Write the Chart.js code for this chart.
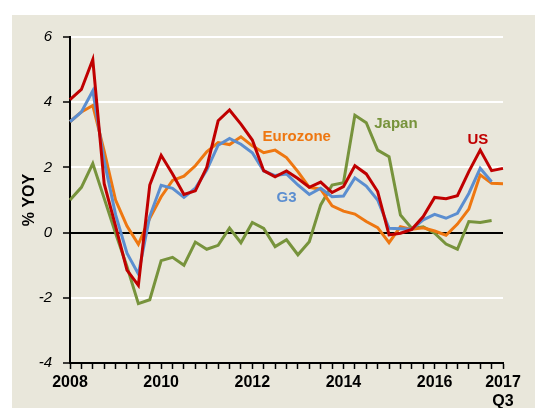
<!DOCTYPE html>
<html>
<head>
<meta charset="utf-8">
<script src="https://cdn.jsdelivr.net/npm/chart.js@4.4.1/dist/chart.umd.min.js"></script>
<style>
  body { margin: 0; background: #fff; }
  canvas { display: block; }
</style>
</head>
<body>
<canvas id="inflation" width="535" height="408"></canvas>
<script>
// quarters 2008Q1 .. 2017Q3
var quarters = [];
for (var yr = 2008; yr <= 2017; yr++) {
  for (var q = 1; q <= 4; q++) {
    if (yr == 2017 && q > 3) break;
    quarters.push(yr + "Q" + q);
  }
}

// tick labels shown under the x axis
var tickAt = ["2008Q1", "2010Q1", "2012Q1", "2014Q1", "2016Q1", "2017Q3"];
var tickText = ["2008", "2010", "2012", "2014", "2016", ["2017", "Q3"]];

var us = [4.08, 4.39, 5.31, 1.5, 0.2, -1.15, -1.62, 1.46, 2.37, 1.8, 1.17, 1.28, 2.0, 3.43, 3.76, 3.33, 2.84, 1.9, 1.71, 1.89, 1.66, 1.39, 1.55, 1.23, 1.41, 2.05, 1.8, 1.26, -0.07, -0.02, 0.1, 0.49, 1.08, 1.04, 1.13, 1.87, 2.53, 1.9, 1.97];
var g3 = [3.4, 3.7, 4.35, 2.2, 0.55, -0.63, -1.27, 0.5, 1.45, 1.36, 1.08, 1.36, 1.92, 2.68, 2.89, 2.71, 2.45, 1.89, 1.75, 1.8, 1.46, 1.17, 1.36, 1.1, 1.12, 1.68, 1.43, 1.0, 0.13, 0.12, 0.1, 0.39, 0.56, 0.44, 0.59, 1.2, 1.97, 1.56, null];
var eurozone = [3.4, 3.7, 3.9, 2.5, 1.0, 0.2, -0.36, 0.44, 1.1, 1.6, 1.73, 2.05, 2.48, 2.76, 2.7, 2.94, 2.66, 2.45, 2.53, 2.3, 1.87, 1.39, 1.33, 0.82, 0.66, 0.57, 0.34, 0.15, -0.31, 0.18, 0.1, 0.15, 0.05, -0.08, 0.26, 0.72, 1.77, 1.51, 1.5];
var japan = [1.0, 1.39, 2.12, 1.05, -0.02, -1.04, -2.18, -2.06, -0.86, -0.76, -1.0, -0.29, -0.51, -0.39, 0.14, -0.31, 0.31, 0.13, -0.43, -0.22, -0.68, -0.28, 0.85, 1.46, 1.53, 3.6, 3.37, 2.53, 2.33, 0.54, 0.13, 0.18, -0.02, -0.35, -0.51, 0.34, 0.31, 0.37, null];

// in-chart series names: [text, colour, quarter index, value]
var seriesLabels = [
  ["Eurozone", "#EE7711", 19.9, 2.93],
  ["Japan", "#77933C", 28.6, 3.33],
  ["US", "#C00000", 35.8, 2.84],
  ["G3", "#5B8ED0", 19.0, 1.06]
];

var FONT = "'Liberation Sans', Arial, sans-serif";

var backdrop = {
  id: "backdrop",
  beforeDraw: function (chart) {
    var c = chart.ctx;
    c.save();
    c.fillStyle = "#E9E7DB";
    c.fillRect(12, 15, chart.width - 12, chart.height - 15);
    c.restore();
  },
  afterDatasetsDraw: function (chart) {
    var c = chart.ctx;
    var xs = chart.scales.x, ys = chart.scales.y;
    c.save();
    c.font = "bold 15px " + FONT;
    c.textAlign = "center";
    c.textBaseline = "middle";
    seriesLabels.forEach(function (l) {
      c.fillStyle = l[1];
      c.fillText(l[0], xs.getPixelForValue(l[2]), ys.getPixelForValue(l[3]));
    });
    c.restore();
  }
};

function line(label, data, color) {
  return {
    label: label,
    data: data,
    borderColor: color,
    backgroundColor: color,
    borderWidth: 3,
    pointRadius: 0,
    tension: 0,
    spanGaps: false
  };
}

var ctx = document.getElementById("inflation").getContext("2d");
var myChart = new Chart(ctx, {
  type: "line",
  data: {
    labels: quarters,
    datasets: [
      line("US", us, "#C00000"),
      line("G3", g3, "#5B8ED0"),
      line("Eurozone", eurozone, "#EE7711"),
      line("Japan", japan, "#77933C")
    ]
  },
  options: {
    responsive: false,
    animation: false,
    devicePixelRatio: 1,
    layout: { padding: { left: 20, top: 37, right: 32, bottom: 0 } },
    plugins: {
      legend: { display: false },
      tooltip: { enabled: false }
    },
    scales: {
      x: {
        offset: false,
        afterFit: function (scale) { scale.height = 45; },
        grid: {
          drawOnChartArea: false,
          drawTicks: true,
          tickLength: 6,
          tickColor: "#000",
          tickWidth: 1.5
        },
        border: { color: "#000", width: 2 },
        ticks: {
          autoSkip: false,
          maxRotation: 0,
          padding: 4,
          color: "#000",
          font: { family: FONT, size: 16, weight: "bold" },
          callback: function (val, i) {
            var k = tickAt.indexOf(quarters[i]);
            return k < 0 ? "" : tickText[k];
          }
        }
      },
      y: {
        min: -4,
        max: 6,
        afterFit: function (scale) { scale.width = 50; },
        title: {
          display: true,
          text: "% YOY",
          color: "#000",
          padding: 0,
          font: { family: FONT, size: 16, weight: "bold" }
        },
        grid: {
          color: function (c) { return c.tick.value === 0 ? "#000" : "#fff"; },
          lineWidth: 2,
          tickLength: 7,
          tickColor: "#000",
          tickWidth: 1.5
        },
        border: { color: "#000", width: 2 },
        ticks: {
          stepSize: 2,
          padding: 11,
          color: "#000",
          font: { family: FONT, size: 15, style: "italic" }
        }
      }
    }
  },
  plugins: [backdrop]
});
</script>
</body>
</html>
